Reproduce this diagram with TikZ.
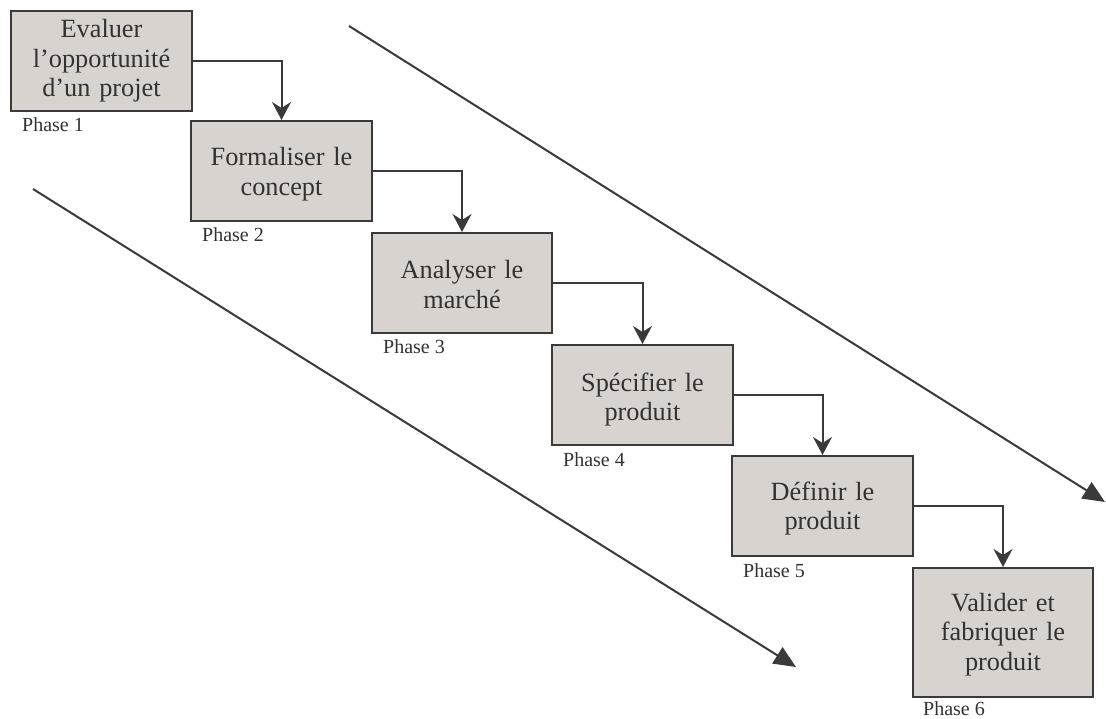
\documentclass[tikz,border=0pt]{standalone}
\usepackage{fontspec}
\setmainfont{Liberation Serif}
\usetikzlibrary{arrows.meta}
\definecolor{boxfill}{RGB}{217,211,208}
\definecolor{ink}{RGB}{58,58,60}
\definecolor{txt}{RGB}{50,50,50}
\begin{document}
\begin{tikzpicture}[x=1pt,y=-1pt,
  phasebox/.style={draw=ink, fill=boxfill, line width=2pt, inner sep=0pt,
    minimum width=181pt, minimum height=100pt},
  boxtext/.style={anchor=base, text width=178pt, align=center, text=txt,
    inner sep=0pt, font=\fontsize{26.3}{29.5}\selectfont},
  phaselabel/.style={anchor=base west, inner sep=0pt, text=txt,
    font=\fontsize{20}{24}\selectfont},
  flow/.style={draw=ink, line width=2pt,
    -{Stealth[length=18pt, width=19pt, inset=6pt]}},
  trend/.style={draw=ink, line width=2pt,
    -{Triangle[length=22pt, width=19pt]}}]
\useasboundingbox (0,0) rectangle (1106,719);

% phase boxes
\node[phasebox] (b1) at (101.5,61) {};
\node[phasebox] (b2) at (281.5,171) {};
\node[phasebox, minimum width=180pt] (b3) at (462,283) {};
\node[phasebox] (b4) at (642.5,395) {};
\node[phasebox] (b5) at (822.5,506) {};
\node[phasebox, minimum width=180pt, minimum height=129pt] (b6) at (1003,632.5) {};

% box titles
\node[boxtext] (t1) at (101.5,38) {Evaluer\\l’opportunité\\d’un projet};
\node[boxtext] (t2) at (281.5,166) {Formaliser le\\concept};
\node[boxtext] (t3) at (462,279) {Analyser le\\marché};
\node[boxtext] (t4) at (642.5,391) {Spécifier le\\produit};
\node[boxtext] (t5) at (822.5,500) {Définir le\\produit};
\node[boxtext] (t6) at (1003,611) {Valider et\\fabriquer le\\produit};

% phase numbers under each box
\node[phaselabel] (p1) at ([shift={(12,20)}]b1.south west) {Phase 1};
\node[phaselabel] (p2) at ([shift={(12,20)}]b2.south west) {Phase 2};
\node[phaselabel] (p3) at ([shift={(12,20)}]b3.south west) {Phase 3};
\node[phaselabel] (p4) at ([shift={(12,20)}]b4.south west) {Phase 4};
\node[phaselabel] (p5) at ([shift={(12,20)}]b5.south west) {Phase 5};
\node[phaselabel] (p6) at ([shift={(11,17)}]b6.south west) {Phase 6};

% step connectors
\draw[flow] (b1.east) -| (b2.north);
\draw[flow] (b2.east) -| (b3.north);
\draw[flow] (b3.east) -| (b4.north);
\draw[flow] (b4.east) -| (b5.north);
\draw[flow] (b5.east) -| (b6.north);

% long diagonal arrows
\coordinate (u0) at (349,26);
\coordinate (u1) at (1105,502);
\coordinate (l0) at (33,189);
\coordinate (l1) at (796,667);
\draw[trend] (u0) -- (u1);
\draw[trend] (l0) -- (l1);
\end{tikzpicture}
\end{document}
